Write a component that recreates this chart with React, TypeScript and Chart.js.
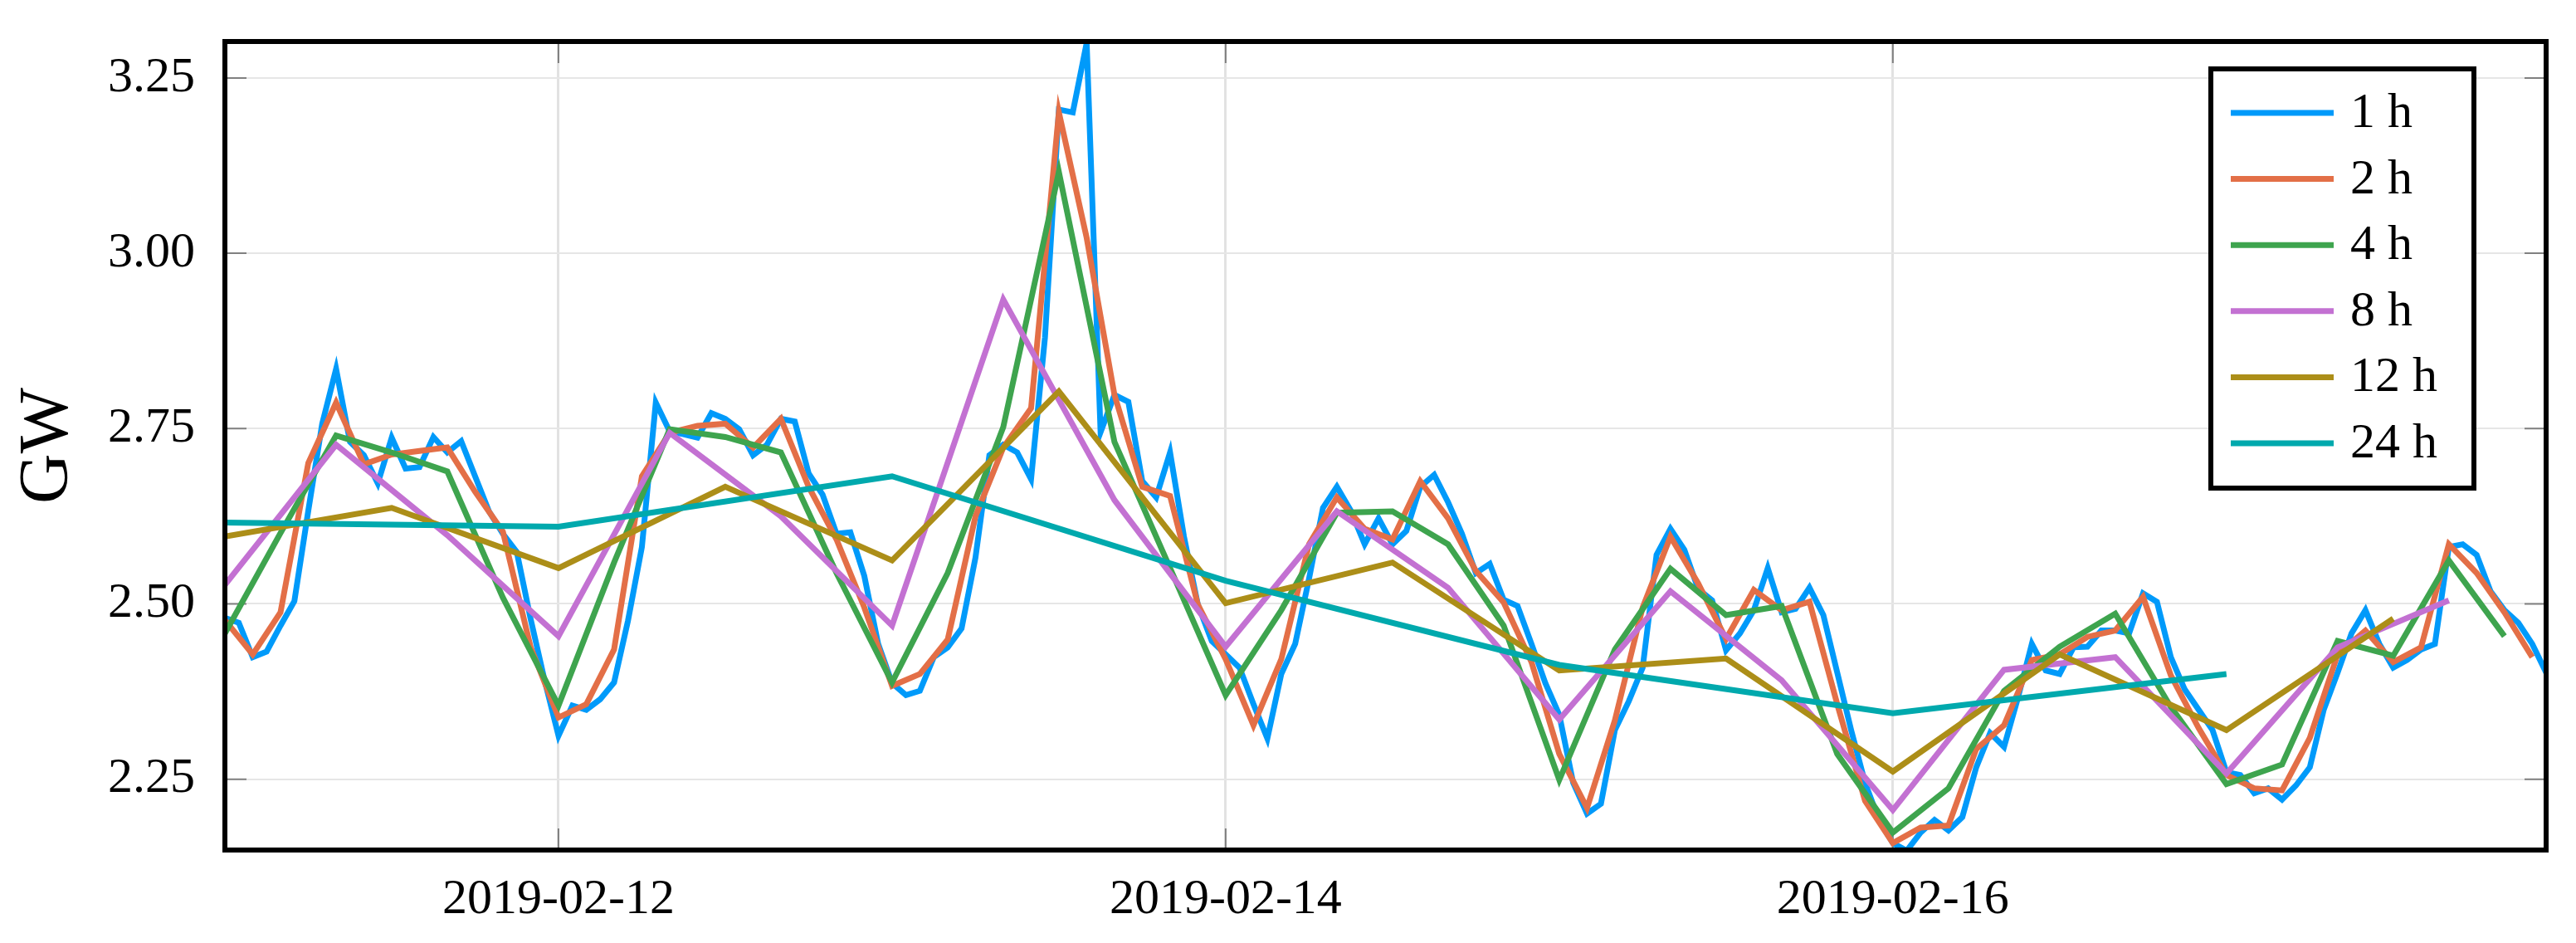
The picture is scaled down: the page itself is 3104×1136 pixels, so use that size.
import React, { useEffect, useRef } from "react";
import { Chart, registerables } from "chart.js";

Chart.register(...registerables);

// ---- data (GW) ----
const START_DATE = "2019-02-11T00:00:00Z";
const X_TICK_LABELS = ["2019-02-12", "2019-02-14", "2019-02-16"];
const Y_TICKS = [2.25, 2.5, 2.75, 3.0, 3.25];
const Y_MIN = 2.149;
const Y_MAX = 3.302;
const X_MAX_HOURS = 167;

const SERIES_LABELS = ["1 h", "2 h", "4 h", "8 h", "12 h", "24 h"];
const SERIES_STEP_HOURS = [1, 2, 4, 8, 12, 24];
const SERIES_COLORS = ["#009AFA", "#E36F47", "#3EA44E", "#C371D2", "#AC8E18", "#00A9AD"];

const LOAD_1H = [
  2.480, 2.473, 2.424, 2.432, 2.469, 2.504, 2.633, 2.757, 2.835, 2.731, 2.712, 2.672,
  2.737, 2.693, 2.695, 2.738, 2.716, 2.732, 2.682, 2.632, 2.600, 2.574, 2.478, 2.391,
  2.312, 2.355, 2.349, 2.364, 2.388, 2.476, 2.581, 2.787, 2.746, 2.742, 2.737, 2.772,
  2.764, 2.749, 2.712, 2.727, 2.764, 2.760, 2.686, 2.656, 2.600, 2.602, 2.540, 2.443,
  2.387, 2.370, 2.376, 2.424, 2.438, 2.465, 2.566, 2.712, 2.727, 2.716, 2.678, 2.880,
  3.205, 3.201, 3.300, 2.745, 2.798, 2.788, 2.675, 2.652, 2.716, 2.596, 2.499, 2.447,
  2.428, 2.409, 2.357, 2.308, 2.400, 2.443, 2.536, 2.637, 2.667, 2.633, 2.585, 2.622,
  2.585, 2.604, 2.667, 2.684, 2.645, 2.600, 2.544, 2.557, 2.506, 2.497, 2.443, 2.387,
  2.342, 2.245, 2.201, 2.215, 2.320, 2.361, 2.409, 2.570, 2.607, 2.577, 2.521, 2.505,
  2.434, 2.458, 2.491, 2.551, 2.488, 2.493, 2.523, 2.484, 2.402, 2.320, 2.245, 2.192,
  2.159, 2.148, 2.174, 2.192, 2.177, 2.196, 2.267, 2.316, 2.296, 2.366, 2.443, 2.405,
  2.400, 2.438, 2.439, 2.462, 2.462, 2.458, 2.515, 2.503, 2.424, 2.378, 2.349, 2.320,
  2.260, 2.256, 2.230, 2.237, 2.221, 2.241, 2.267, 2.349, 2.402, 2.458, 2.491, 2.443,
  2.409, 2.420, 2.435, 2.443, 2.581, 2.585, 2.570, 2.518, 2.491, 2.473, 2.443, 2.402,
];

const LOAD_2H = [
  2.477, 2.428, 2.488, 2.701, 2.787, 2.699, 2.713, 2.718, 2.723, 2.660, 2.603, 2.438,
  2.338, 2.357, 2.435, 2.682, 2.744, 2.754, 2.757, 2.723, 2.764, 2.667, 2.592, 2.495,
  2.383, 2.400, 2.449, 2.625, 2.723, 2.779, 3.201, 3.022, 2.798, 2.667, 2.654, 2.499,
  2.421, 2.327, 2.421, 2.585, 2.652, 2.607, 2.592, 2.675, 2.622, 2.547, 2.502, 2.417,
  2.286, 2.209, 2.334, 2.495, 2.596, 2.529, 2.450, 2.520, 2.491, 2.503, 2.357, 2.219,
  2.159, 2.181, 2.184, 2.293, 2.327, 2.420, 2.428, 2.453, 2.462, 2.510, 2.398, 2.323,
  2.256, 2.237, 2.234, 2.309, 2.428, 2.462, 2.417, 2.438, 2.585, 2.544, 2.488, 2.424,
];

const LOAD_4H = [
  2.458, 2.601, 2.740, 2.716, 2.689, 2.509, 2.355, 2.559, 2.749, 2.738, 2.716, 2.544,
  2.388, 2.544, 2.752, 3.116, 2.731, 2.551, 2.370, 2.491, 2.630, 2.632, 2.585, 2.469,
  2.249, 2.435, 2.550, 2.484, 2.497, 2.286, 2.174, 2.237, 2.376, 2.439, 2.486, 2.353,
  2.243, 2.271, 2.447, 2.426, 2.562, 2.454,
];

const LOAD_8H = [
  2.527, 2.727, 2.598, 2.454, 2.744, 2.625, 2.469, 2.934, 2.648, 2.439, 2.632, 2.523,
  2.335, 2.518, 2.391, 2.206, 2.406, 2.424, 2.258, 2.438, 2.505,
];

const LOAD_12H = [
  2.596, 2.637, 2.551, 2.667, 2.562, 2.803, 2.501, 2.559, 2.405, 2.422, 2.261, 2.428,
  2.320, 2.479,
];

const LOAD_24H = [2.616, 2.610, 2.682, 2.533, 2.413, 2.344, 2.400];

const SERIES_VALUES = [LOAD_1H, LOAD_2H, LOAD_4H, LOAD_8H, LOAD_12H, LOAD_24H];

// ---- helpers ----
const START_MS = Date.parse(START_DATE);
const X_TICK_HOURS = X_TICK_LABELS.map(
  (d) => (Date.parse(d + "T00:00:00Z") - START_MS) / 3600000
);

const SERIF = "'Liberation Serif', 'Times New Roman', serif";

const frameLegendPlugin = {
  id: "frameLegend",
  beforeDatasetsDraw(chart: any) {
    const { ctx, chartArea } = chart;
    const { left, right, top, bottom } = chartArea;
    const ys = chart.scales.y;
    const xs = chart.scales.x;
    ctx.save();
    ctx.strokeStyle = "#808080";
    ctx.lineWidth = 2;
    const tl = 26;
    for (const v of Y_TICKS) {
      const py = ys.getPixelForValue(v);
      ctx.beginPath();
      ctx.moveTo(left, py);
      ctx.lineTo(left + tl, py);
      ctx.moveTo(right - tl, py);
      ctx.lineTo(right, py);
      ctx.stroke();
    }
    for (const h of X_TICK_HOURS) {
      const px = xs.getPixelForValue(h);
      ctx.beginPath();
      ctx.moveTo(px, top);
      ctx.lineTo(px, top + tl);
      ctx.moveTo(px, bottom - tl);
      ctx.lineTo(px, bottom);
      ctx.stroke();
    }
    ctx.restore();
  },
  afterDatasetsDraw(chart: any) {
    const { ctx, chartArea } = chart;
    ctx.save();
    // legend box
    const bx = 2664, by = 83, bw = 317, bh = 505;
    ctx.fillStyle = "#ffffff";
    ctx.fillRect(bx, by, bw, bh);
    ctx.strokeStyle = "#000000";
    ctx.lineWidth = 6;
    ctx.strokeRect(bx, by, bw, bh);
    const ds = chart.data.datasets;
    ctx.font = `60px ${SERIF}`;
    ctx.textBaseline = "alphabetic";
    ctx.textAlign = "left";
    for (let i = 0; i < ds.length; i++) {
      const ry = 136 + i * 79.6;
      ctx.strokeStyle = ds[i].borderColor;
      ctx.lineWidth = 7;
      ctx.lineCap = "butt";
      ctx.beginPath();
      ctx.moveTo(2688, ry);
      ctx.lineTo(2812, ry);
      ctx.stroke();
      ctx.fillStyle = "#000000";
      ctx.fillText(ds[i].label, 2832, ry + 17);
    }
    // frame
    ctx.strokeStyle = "#000000";
    ctx.lineWidth = 6;
    ctx.strokeRect(
      chartArea.left,
      chartArea.top,
      chartArea.right - chartArea.left,
      chartArea.bottom - chartArea.top
    );
    ctx.restore();
  },
};

export default function App() {
  const canvasRef = useRef<HTMLCanvasElement | null>(null);

  useEffect(() => {
    if (!canvasRef.current) return;
    const datasets = SERIES_VALUES.map((vals, i) => ({
      label: SERIES_LABELS[i],
      data: vals.map((y, k) => ({ x: k * SERIES_STEP_HOURS[i], y })),
      borderColor: SERIES_COLORS[i],
      backgroundColor: SERIES_COLORS[i],
      borderWidth: 7,
      pointRadius: 0,
      pointHoverRadius: 0,
      tension: 0,
      fill: false,
      order: SERIES_VALUES.length - i,
    }));

    const chart = new Chart(canvasRef.current, {
      type: "line",
      data: { datasets },
      plugins: [frameLegendPlugin],
      options: {
        responsive: false,
        animation: false,
        devicePixelRatio: 1,
        layout: { padding: { left: 0, top: 50, right: 36, bottom: 0 } },
        plugins: {
          legend: { display: false },
          tooltip: { enabled: false },
        },
        scales: {
          x: {
            type: "linear",
            min: 0,
            max: X_MAX_HOURS,
            afterBuildTicks: (s: any) => {
              s.ticks = X_TICK_HOURS.map((v) => ({ value: v }));
            },
            afterFit: (s: any) => {
              s.height = 112;
              s.paddingLeft = 0;
              s.paddingRight = 0;
              s.paddingTop = 0;
              s.paddingBottom = 0;
            },
            ticks: {
              autoSkip: false,
              maxRotation: 0,
              padding: 24,
              color: "#000000",
              font: { family: SERIF, size: 60 },
              callback: (v: any) => {
                const idx = X_TICK_HOURS.indexOf(Number(v));
                return idx >= 0 ? X_TICK_LABELS[idx] : "";
              },
            },
            grid: { color: "#e2e2e2", lineWidth: 3, drawTicks: false },
            border: { display: false },
          },
          y: {
            type: "linear",
            min: Y_MIN,
            max: Y_MAX,
            afterBuildTicks: (s: any) => {
              s.ticks = Y_TICKS.map((v) => ({ value: v }));
            },
            afterFit: (s: any) => {
              s.width = 271;
              s.paddingLeft = 0;
              s.paddingRight = 0;
              s.paddingTop = 0;
              s.paddingBottom = 0;
            },
            ticks: {
              padding: 36,
              color: "#000000",
              font: { family: SERIF, size: 60 },
              callback: (v: any) => Number(v).toFixed(2),
            },
            grid: { color: "#e6e6e6", lineWidth: 2, drawTicks: false },
            border: { display: false },
            title: {
              display: true,
              text: "GW",
              color: "#000000",
              font: { family: SERIF, size: 84 },
              padding: { top: 9, bottom: 0 },
            },
          },
        },
      },
    } as any);

    return () => chart.destroy();
  }, []);

  return (
    <div
      style={{
        position: "fixed",
        left: 0,
        top: 0,
        width: 3104,
        height: 1136,
        background: "#ffffff",
      }}
    >
      <canvas ref={canvasRef} width={3104} height={1136} />
    </div>
  );
}
